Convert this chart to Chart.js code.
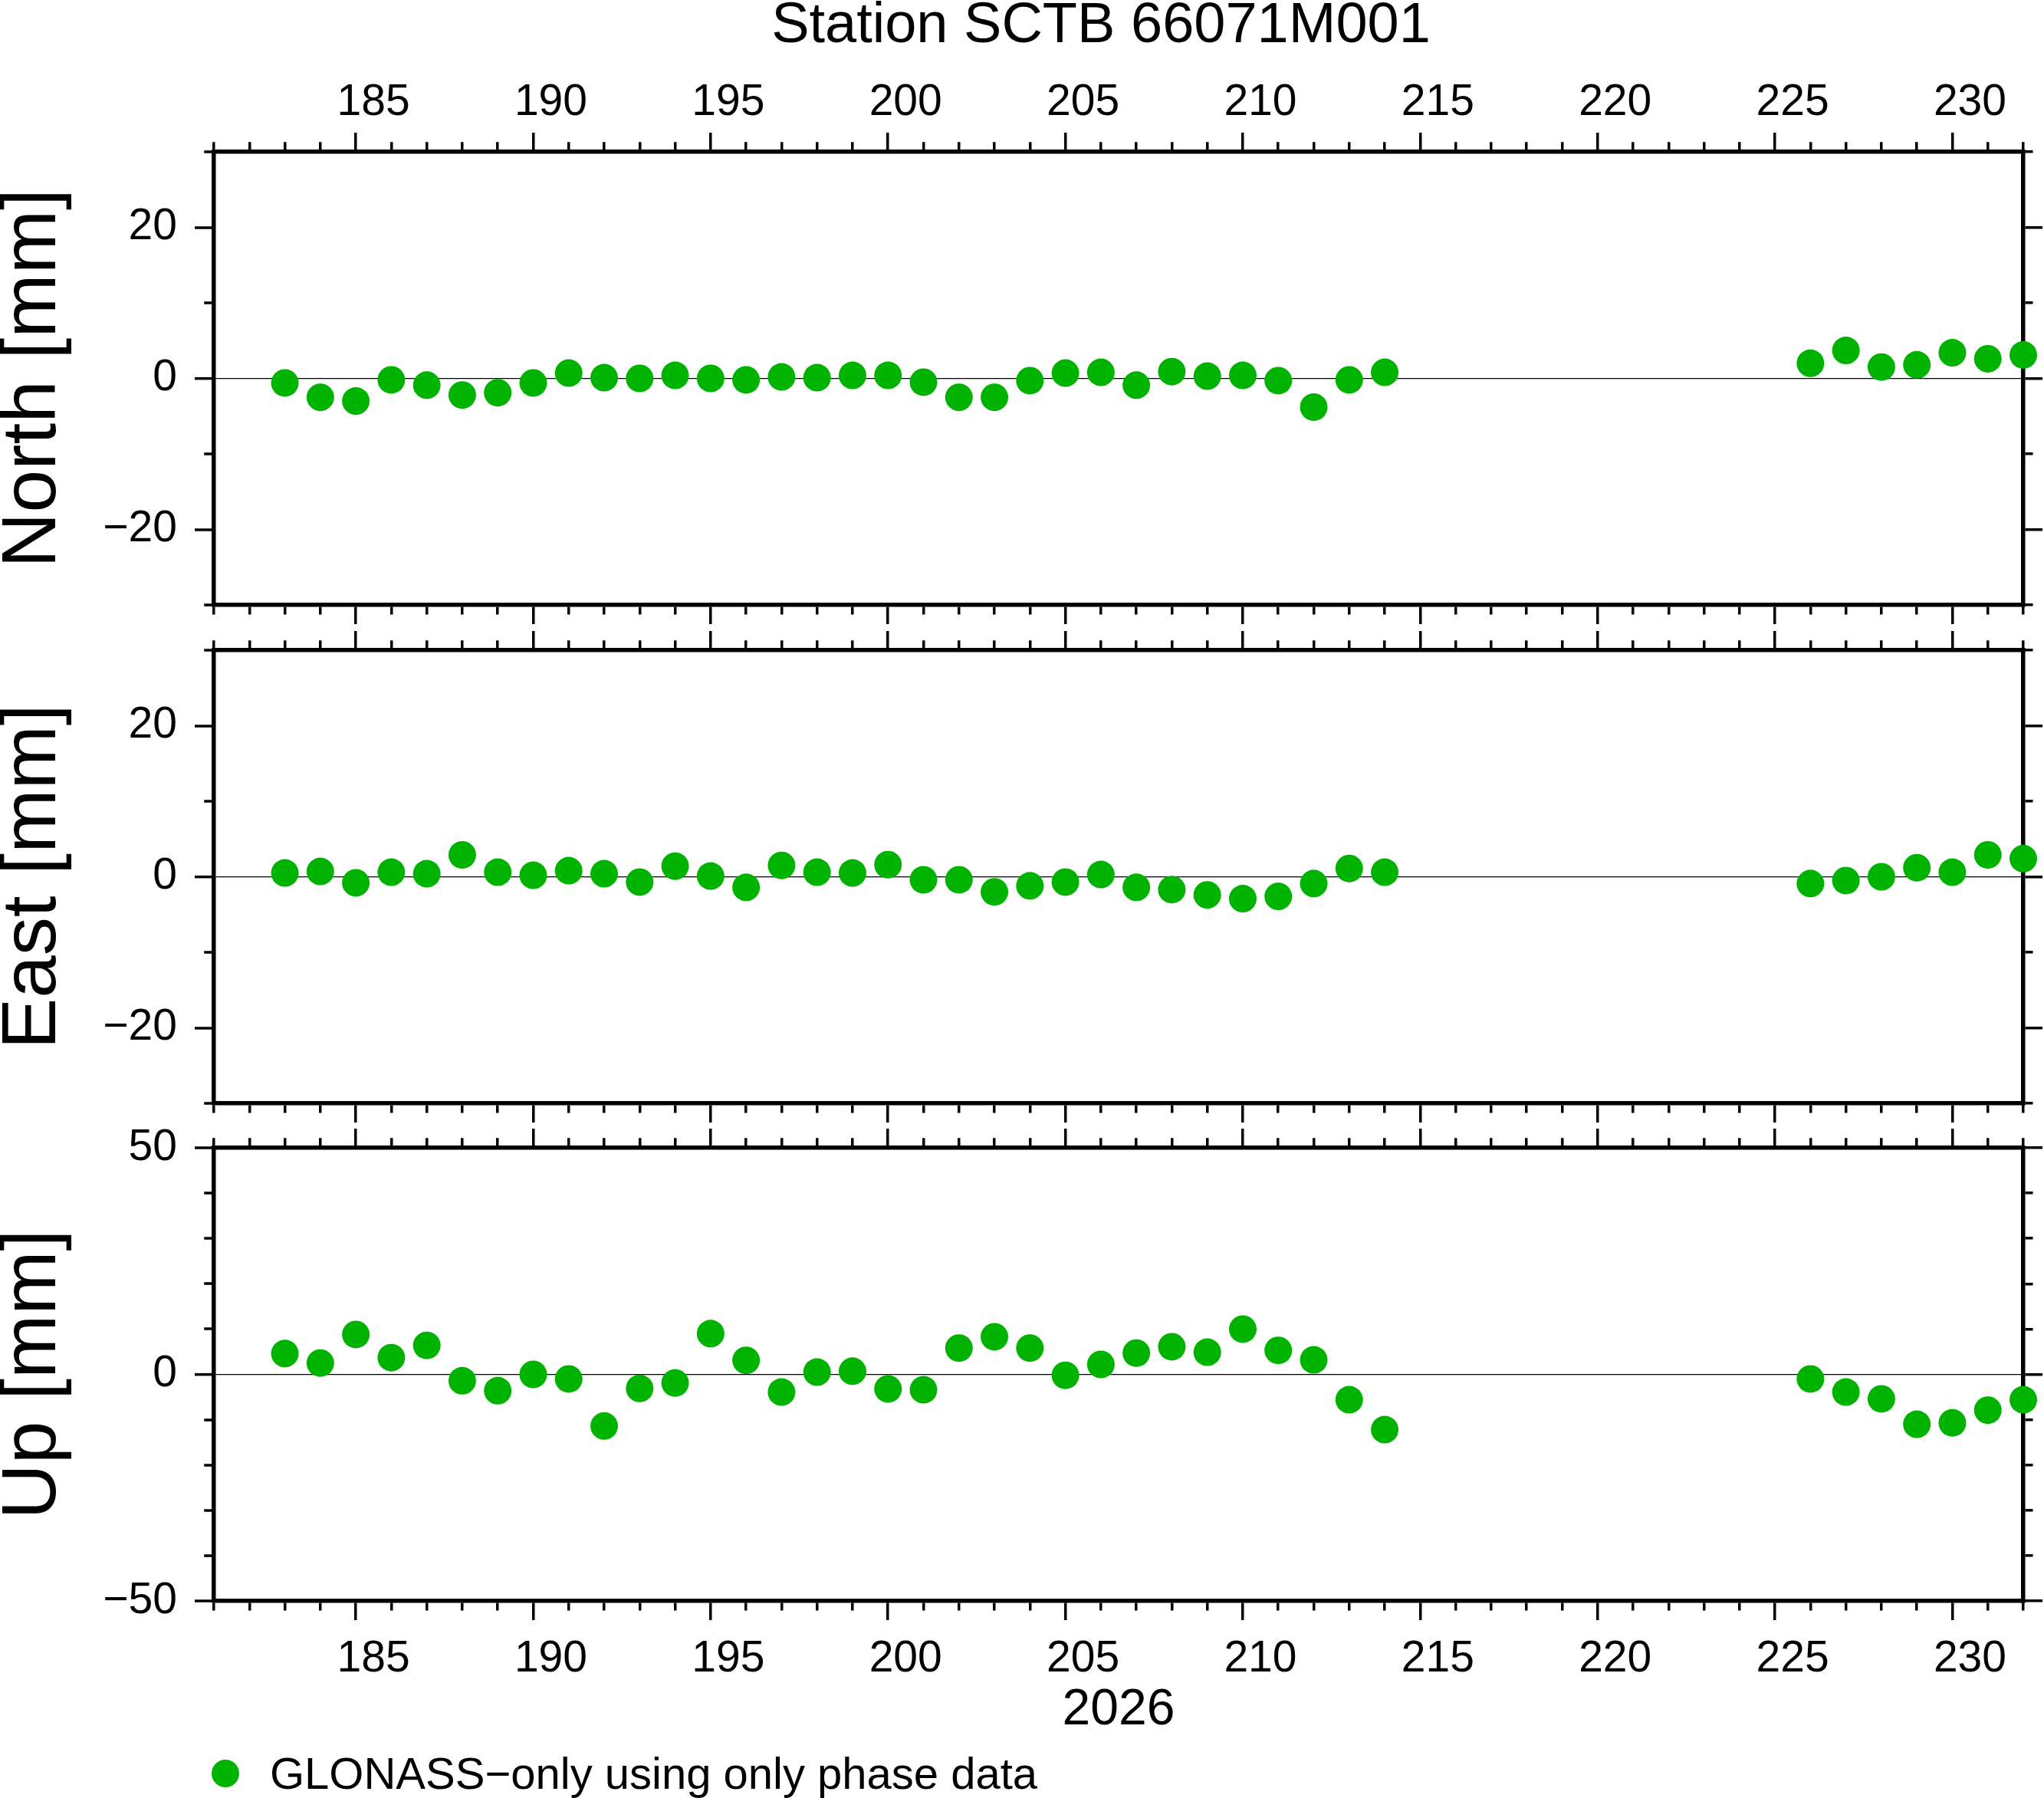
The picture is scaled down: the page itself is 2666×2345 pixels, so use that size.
<!DOCTYPE html>
<html>
<head>
<meta charset="utf-8">
<script src="https://cdn.jsdelivr.net/npm/chart.js@4.4.1/dist/chart.umd.min.js"></script>
<style>
  html, body { margin: 0; padding: 0; background: #fff; }
  #page { position: relative; width: 2666px; height: 2345px; overflow: hidden;
          font-family: "Liberation Sans", Arial, sans-serif; color: #000; }
  #page canvas { position: absolute; left: 0; top: 0; }
  #title { position: absolute; left: 1436px; top: 30px; transform: translate(-50%, -50%);
           font-size: 74px; line-height: 1; white-space: nowrap; }
  #legend { position: absolute; left: 276px; top: 2313px; transform: translateY(-50%);
            font-size: 58px; line-height: 1; white-space: nowrap; display: flex; align-items: center; }
  #legend .dot { width: 36px; height: 36px; border-radius: 50%; margin-right: 40px; }
</style>
</head>
<body>
<div id="page">
  <div id="title">Station SCTB 66071M001</div>
  <canvas id="north" width="2666" height="2345"></canvas>
  <canvas id="east" width="2666" height="2345"></canvas>
  <canvas id="up" width="2666" height="2345"></canvas>
  <div id="legend"><span class="dot"></span><span class="text"></span></div>
</div>
<script>
// day of year 2026
const days = [183, 184, 185, 186, 187, 188, 189, 190, 191, 192, 193, 194, 195, 196, 197, 198,
  199, 200, 201, 202, 203, 204, 205, 206, 207, 208, 209, 210, 211, 212, 213, 214,
  226, 227, 228, 229, 230, 231, 232];

// residuals in mm
const north = [-0.6, -2.5, -3.0, -0.2, -0.9, -2.2, -1.9, -0.6, 0.7, 0.1, 0.0, 0.4, 0.0, -0.2, 0.2, 0.1,
  0.4, 0.4, -0.5, -2.5, -2.5, -0.3, 0.7, 0.8, -0.9, 0.9, 0.3, 0.4, -0.3, -3.8, -0.2, 0.8,
  2.0, 3.7, 1.5, 1.8, 3.4, 2.6, 3.1];
const east = [0.5, 0.7, -0.8, 0.6, 0.4, 2.9, 0.6, 0.2, 0.8, 0.4, -0.7, 1.4, 0.1, -1.4, 1.5, 0.6,
  0.5, 1.6, -0.4, -0.4, -2.0, -1.2, -0.7, 0.3, -1.4, -1.7, -2.4, -2.9, -2.6, -0.9, 1.1, 0.6,
  -0.9, -0.5, 0.0, 1.2, 0.6, 2.9, 2.4];
const up = [4.6, 2.5, 8.8, 3.7, 6.4, -1.4, -3.6, 0.0, -1.0, -11.4, -3.1, -1.9, 9.0, 3.1, -3.9, 0.5,
  0.7, -3.2, -3.4, 5.8, 8.3, 5.8, -0.2, 2.2, 4.7, 6.1, 4.9, 10.0, 5.3, 3.2, -5.6, -12.2,
  -1.0, -3.9, -5.4, -11.0, -10.7, -7.9, -5.6];

const xTickLabels = [185, 190, 195, 200, 205, 210, 215, 220, 225, 230];
const horizTickLabels = [-20, 0, 20];
const upTickLabels = [-50, 0, 50];

const seriesLabel = "GLONASS\u2212only using only phase data";
const yearLabel = "2026";

const GREEN = "#00b300";
const W = 2666, H = 2345;
const LEFT = 279, RIGHT = 2639;
const TICK = 25, MINOR = 10, FRAME = 5.5;
const FONT = "'Liberation Sans', Arial, sans-serif";

Chart.defaults.font.family = FONT;
Chart.defaults.color = "#000";

const fmt = (v) => (v < 0 ? "\u2212" + Math.abs(v) : String(v));

// minor ticks are the full-length tick with a dash that only shows the part next to the frame
const minorDash = (outerFirst) => {
  const len = TICK - FRAME / 2;
  return outerFirst ? [0, len - MINOR, MINOR, 100] : [MINOR, 100];
};

const tickGrid = (isMajor, outerFirst) => ({
  drawOnChartArea: false,
  lineWidth: FRAME,
  tickLength: TICK,
  tickWidth: 3.5,
  tickColor: "#000",
  tickBorderDash: (c) => (c.tick && !isMajor(c.tick.value) ? minorDash(outerFirst) : []),
});

const border = { display: true, color: "#000", width: FRAME };

function xAxis(position, showLabels, height, title) {
  return {
    type: "linear",
    position: position,
    min: 181,
    max: 232,
    afterFit: (s) => { s.height = height; },
    border: border,
    grid: tickGrid((v) => v % 5 === 0, position === "top"),
    ticks: {
      display: showLabels,
      stepSize: 1,
      autoSkip: false,
      maxRotation: 0,
      minRotation: 0,
      labelOffset: 23,
      padding: position === "top" ? 5 : 17,
      font: { size: 57, lineHeight: 1.2 },
      callback: (v) => (xTickLabels.includes(v) ? String(v) : ""),
    },
    title: title
      ? { display: true, text: title, font: { size: 66, lineHeight: 1.2 }, padding: 0 }
      : { display: false },
  };
}

function yAxis(position, min, max, labels, title) {
  const isMajor = (v) => labels.includes(v);
  const axis = {
    type: "linear",
    position: position,
    min: min,
    max: max,
    afterFit: (s) => { s.width = position === "left" ? LEFT : W - RIGHT; },
    border: border,
    grid: tickGrid(isMajor, position === "left"),
    ticks: {
      display: position === "left",
      stepSize: 10,
      autoSkip: false,
      padding: 23,
      font: { size: 57, lineHeight: 1.2 },
      callback: (v) => (isMajor(v) ? fmt(v) : ""),
    },
  };
  if (position === "left") {
    axis.grid.drawOnChartArea = true;
    axis.grid.color = "#000";
    axis.grid.lineWidth = (c) => (c.tick && c.tick.value === 0 ? 1.3 : 0);
    axis.title = { display: true, text: title, font: { size: 100, lineHeight: 0.88 }, padding: 0 };
  }
  return axis;
}

function makePanel(id, opts) {
  // label boxes must be tall enough, Chart.js clips tick labels to their axis box
  const topH = opts.topLabels ? 190 : 40;
  const bottomH = opts.year ? 182 : 40;
  return new Chart(document.getElementById(id), {
    type: "scatter",
    data: {
      datasets: [{
        label: seriesLabel,
        data: days.map((d, i) => ({ x: d, y: opts.values[i] })),
        backgroundColor: GREEN,
        borderWidth: 0,
        pointRadius: 18,
        pointHoverRadius: 18,
        clip: false,
      }],
    },
    options: {
      responsive: false,
      animation: false,
      devicePixelRatio: 1,
      events: [],
      layout: {
        autoPadding: false,
        padding: { left: 0, right: 0, top: opts.top - topH, bottom: H - opts.bottom - bottomH },
      },
      plugins: { legend: { display: false }, tooltip: { enabled: false } },
      scales: {
        x: xAxis("bottom", !!opts.year, bottomH, opts.year),
        xTop: xAxis("top", !!opts.topLabels, topH, null),
        y: yAxis("left", opts.min, opts.max, opts.labels, opts.title),
        yR: yAxis("right", opts.min, opts.max, opts.labels, null),
      },
    },
  });
}

makePanel("north", { top: 198, bottom: 789, values: north, min: -30, max: 30,
  labels: horizTickLabels, title: "North [mm]", topLabels: true });
makePanel("east", { top: 848, bottom: 1439, values: east, min: -30, max: 30,
  labels: horizTickLabels, title: "East [mm]" });
makePanel("up", { top: 1497, bottom: 2088, values: up, min: -50, max: 50,
  labels: upTickLabels, title: "Up [mm]", year: yearLabel });

document.querySelector("#legend .dot").style.background = GREEN;
document.querySelector("#legend .text").textContent = seriesLabel;
</script>
</body>
</html>
